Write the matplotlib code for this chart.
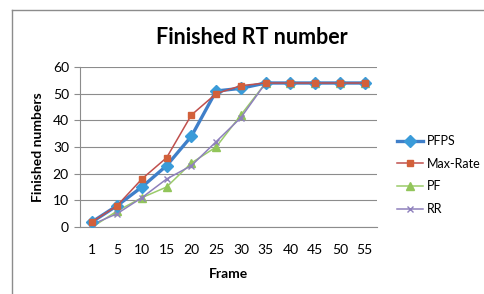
import matplotlib.pyplot as plt
from matplotlib.lines import Line2D

frames = ["1", "5", "10", "15", "20", "25", "30", "35", "40", "45", "50", "55"]
pfps = [2, 8, 15, 23, 34, 51, 52, 54, 54, 54, 54, 54]
max_rate = [2, 8, 18, 26, 42, 50, 53, 54, 54, 54, 54, 54]
pf = [0, 6, 11, 15, 24, 30, 42, 54, 54, 54, 54, 54]
rr = [1, 5, 11, 18, 23, 32, 41, 54, 54, 54, 54, 54]

plt.rcParams['font.family'] = ['Lato', 'DejaVu Sans']

fig = plt.figure(figsize=(4.84, 2.94), dpi=100)
ax = fig.add_axes([80/484, 1-227/294, 297/484, 160/294])

x = range(len(frames))
ax.plot(x, pfps, color='#3F7FC9', lw=2.4, marker='D', ms=6.5,
        mfc='#3A9BD9', mec='#3A9BD9', label='PFPS', zorder=4)
ax.plot(x, max_rate, color='#C0504D', lw=1.1, marker='s', ms=5,
        mfc='#D2603A', mec='#D2603A', label='Max-Rate', zorder=5)
ax.plot(x, pf, color='#9BCB6A', lw=1.1, marker='^', ms=5.5,
        mfc='#92C55A', mec='#92C55A', label='PF', zorder=3)
ax.plot(x, rr, color='#8E80BC', lw=1.1, marker='x', ms=4.5,
        mec='#8E80BC', label='RR', zorder=3)

ax.set_xlim(-0.5, len(frames) - 0.5)
ax.set_ylim(0, 60)
ax.set_yticks(range(0, 61, 10))
ax.set_xticks(list(x))
ax.set_xticklabels(frames)
ax.grid(axis='y', color='#8C8C8C', lw=0.8)
ax.set_axisbelow(True)
for s in ['top', 'right']:
    ax.spines[s].set_visible(False)
ax.spines['left'].set_color('#8C8C8C')
ax.spines['bottom'].set_color('#8C8C8C')
ax.tick_params(axis='y', length=4, color='#8C8C8C', labelsize=10, pad=4)
ax.tick_params(axis='x', length=0, labelsize=10, pad=12)

ax.set_xlabel("Frame", fontsize=10, fontweight='bold', labelpad=9)
ax.set_ylabel("Finished numbers", fontsize=10, fontweight='bold', labelpad=6)
fig.text(0.52, 1-38/294, "Finished RT number", fontsize=15.5, fontweight='bold',
         ha='center', va='center')

ax.legend(loc='center left', bbox_to_anchor=((397-80)/297, (227-175)/160),
          frameon=False, fontsize=9, handlelength=2.1, labelspacing=0.85,
          handletextpad=0.25, borderpad=0, borderaxespad=0)

# outer chart border
fig.add_artist(Line2D([12/484, 12/484], [0, 1-10/294], color='#8C8C8C', lw=1))
fig.add_artist(Line2D([12/484, 1], [1-10/294, 1-10/294], color='#8C8C8C', lw=1))

fig.savefig("out.png", dpi=100)
